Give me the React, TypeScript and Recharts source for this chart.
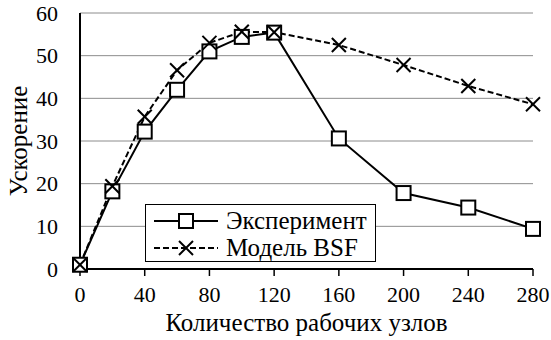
import React from 'react';
import { LineChart, Line, XAxis, YAxis, CartesianGrid, Legend } from 'recharts';

// Number of worker nodes
const nodes = [0, 20, 40, 60, 80, 100, 120, 160, 200, 240, 280];
// Measured speedup
const experiment = [1, 18.2, 32.2, 42, 51, 54.4, 55.4, 30.6, 17.8, 14.4, 9.4];
// Speedup predicted by the BSF model
const bsfModel = [1, 19.4, 35.7, 46.6, 53, 55.6, 55.5, 52.5, 47.8, 42.9, 38.6];

const xTicks = [0, 40, 80, 120, 160, 200, 240, 280];
const yTicks = [0, 10, 20, 30, 40, 50, 60];

const seriesNames = ['Эксперимент', 'Модель BSF'];
const xTitle = 'Количество рабочих узлов';
const yTitle = 'Ускорение';

const data = nodes.map((n, i) => ({ nodes: n, experiment: experiment[i], bsf: bsfModel[i] }));

const FONT = '"Liberation Serif", "Times New Roman", Times, serif';
const TICK_SIZE = 22;
const TITLE_SIZE = 25;

const SquareDot = (props: any) => {
  const { cx, cy } = props;
  if (cx == null || cy == null) return null;
  return <rect x={cx - 7} y={cy - 7} width={14} height={14} fill="#fff" stroke="#000" strokeWidth={2} />;
};

const CrossDot = (props: any) => {
  const { cx, cy } = props;
  if (cx == null || cy == null) return null;
  return (
    <g stroke="#000" strokeWidth={2}>
      <line x1={cx - 7} y1={cy - 7} x2={cx + 7} y2={cy + 7} />
      <line x1={cx - 7} y1={cy + 7} x2={cx + 7} y2={cy - 7} />
    </g>
  );
};

const LegendBox = () => (
  <div
    style={{
      border: '1.5px solid #000',
      background: '#fff',
      boxSizing: 'border-box',
      width: 231,
      height: 58,
      padding: '2px 0 0 6px',
      fontFamily: FONT,
      fontSize: TITLE_SIZE,
      lineHeight: '27px',
      color: '#000',
      whiteSpace: 'nowrap',
    }}
  >
    <div style={{ display: 'flex', alignItems: 'center', height: 27 }}>
      <svg width={68} height={20}>
        <line x1={2} y1={10} x2={66} y2={10} stroke="#000" strokeWidth={2} />
        <rect x={27} y={3} width={14} height={14} fill="#fff" stroke="#000" strokeWidth={2} />
      </svg>
      <span style={{ marginLeft: 6, fontFamily: FONT }}>{seriesNames[0]}</span>
    </div>
    <div style={{ display: 'flex', alignItems: 'center', height: 27 }}>
      <svg width={68} height={20}>
        <line x1={2} y1={10} x2={66} y2={10} stroke="#000" strokeWidth={2} strokeDasharray="6 3" />
        <g stroke="#000" strokeWidth={2}>
          <line x1={27} y1={3} x2={41} y2={17} />
          <line x1={27} y1={17} x2={41} y2={3} />
        </g>
      </svg>
      <span style={{ marginLeft: 6, fontFamily: FONT }}>{seriesNames[1]}</span>
    </div>
  </div>
);

const tickStyle = { fill: '#000', fontFamily: FONT, fontSize: TICK_SIZE, style: { fontFamily: FONT } };

export default function App() {
  return (
    <div style={{ position: 'absolute', left: 0, top: 0, background: '#fff', fontFamily: FONT }}>
      <LineChart
        width={551}
        height={340}
        data={data}
        margin={{ top: 13, right: 18, bottom: 0, left: 0 }}
        style={{ fontFamily: FONT }}
      >
        <CartesianGrid horizontal vertical={false} stroke="#8c8c8c" strokeWidth={1} />
        <XAxis
          dataKey="nodes"
          type="number"
          domain={[0, 280]}
          ticks={xTicks}
          interval={0}
          height={71}
          axisLine={{ stroke: '#000', strokeWidth: 2 }}
          tickLine={{ stroke: '#000', strokeWidth: 1.5 }}
          tickSize={7}
          tickMargin={10}
          tick={tickStyle}
          label={{ value: xTitle, position: 'insideBottom', offset: 9, fill: '#000', fontFamily: FONT, fontSize: TITLE_SIZE, style: { fontFamily: FONT } }}
        />
        <XAxis
          xAxisId="top"
          orientation="top"
          dataKey="nodes"
          type="number"
          domain={[0, 280]}
          height={0}
          tick={false}
          tickLine={false}
          axisLine={{ stroke: '#000', strokeWidth: 2 }}
        />
        <YAxis
          type="number"
          domain={[0, 60]}
          ticks={yTicks}
          interval={0}
          width={80}
          axisLine={{ stroke: '#000', strokeWidth: 2 }}
          tickLine={false}
          tickSize={0}
          tickMargin={22}
          tick={tickStyle}
          label={{ value: yTitle, angle: -90, position: 'insideLeft', offset: 18, fill: '#000', fontFamily: FONT, fontSize: TITLE_SIZE, textAnchor: 'middle', style: { fontFamily: FONT } }}
        />
        <YAxis
          yAxisId="right"
          orientation="right"
          type="number"
          domain={[0, 60]}
          width={0}
          tick={false}
          tickLine={false}
          axisLine={{ stroke: '#000', strokeWidth: 2 }}
        />
        <Legend
          verticalAlign="middle"
          align="center"
          layout="horizontal"
          content={<LegendBox />}
          wrapperStyle={{ position: 'absolute', left: 145, top: 204, width: 231, height: 58 }}
        />
        <Line
          dataKey="experiment"
          name={seriesNames[0]}
          stroke="#000"
          strokeWidth={2}
          dot={<SquareDot />}
          activeDot={false}
          isAnimationActive={false}
        />
        <Line
          dataKey="bsf"
          name={seriesNames[1]}
          stroke="#000"
          strokeWidth={2}
          strokeDasharray="6 3"
          dot={<CrossDot />}
          activeDot={false}
          isAnimationActive={false}
        />
      </LineChart>
    </div>
  );
}
